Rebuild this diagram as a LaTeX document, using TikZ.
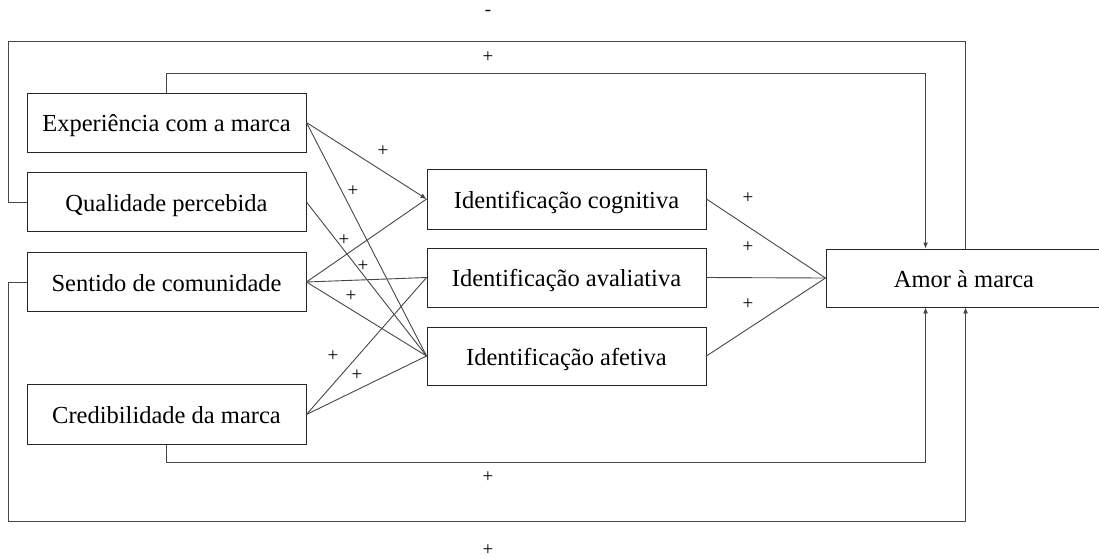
\documentclass[tikz,border=0pt]{standalone}
\usepackage{fontspec}
\setmainfont{Liberation Serif}
\usetikzlibrary{arrows.meta}

\tikzset{
  box/.style={draw=black!85, line width=0.9pt, inner sep=0pt,
    minimum width=279pt, minimum height=59pt,
    text height=18pt, text depth=0pt,
    font=\fontsize{24.5}{29}\selectfont},
  link/.style={draw=black!72, line width=0.9pt},
  arr/.style={link, -{Latex[length=6pt,width=5pt]}},
  sign/.style={inner sep=0pt, font=\fontsize{19}{22}\selectfont}
}

\begin{document}
\begin{tikzpicture}[x=1pt, y=-1pt]
\path[use as bounding box, clip] (0,0) rectangle (1099,558);

% antecedent constructs
\node[box] (exp)  at (166.5,122.5) {Experiência com a marca};
\node[box] (qual) at (166.5,202)    {Qualidade percebida};
\node[box] (sent) at (166.5,282)    {Sentido de comunidade};
\node[box, minimum height=60pt] (cred) at (166.5,414.5) {Credibilidade da marca};

% identification dimensions
\node[box, minimum height=60pt] (cog)  at (566.5,199)   {Identificação cognitiva};
\node[box] (aval) at (566.5,277.5) {Identificação avaliativa};
\node[box, minimum height=58pt] (afet) at (566.5,356)   {Identificação afetiva};

% outcome
\node[box, minimum width=276pt, minimum height=58pt] (amor) at (964,278) {Amor à marca};

% antecedents -> identification
\draw[arr]  (exp.east)  -- (cog.west);
\draw[link] (exp.east)  -- (afet.west);
\draw[link] (qual.east) -- (afet.west);
\draw[link] (sent.east) -- (cog.west);
\draw[link] (sent.east) -- (aval.west);
\draw[link] (sent.east) -- (afet.west);
\draw[link] (cred.east) -- (aval.west);
\draw[link] (cred.east) -- (afet.west);

% identification -> brand love
\draw[link] (cog.east)  -- (amor.west);
\draw[link] (aval.east) -- (amor.west);
\draw[link] (afet.east) -- (amor.west);

% direct paths to brand love
\draw[arr]  (exp.north)  -- ++(0,-19.5) -| ([xshift=100pt]amor.north west);
\draw[link] (qual.west)  -- ++(-18,0) -- ++(0,-161) -| ([xshift=140pt]amor.north west);
\draw[arr]  (cred.south) -- ++(0,17.5) -| ([xshift=100pt]amor.south west);
\draw[arr]  (sent.west)  -- ++(-18,0) -- ++(0,239) -| ([xshift=140pt]amor.south west);

% signs
\node[sign] (s1)  at (488,13)  {-};
\node[sign] (s2)  at (488,57)  {+};
\node[sign] (s3)  at (488,477) {+};
\node[sign] (s4)  at (488,550) {+};
\node[sign] (s5)  at (383,151) {+};
\node[sign] (s6)  at (353,191) {+};
\node[sign] (s7)  at (344,240) {+};
\node[sign] (s8)  at (363,266) {+};
\node[sign] (s9)  at (351,296) {+};
\node[sign] (s10) at (333,356) {+};
\node[sign] (s11) at (357,375) {+};
\node[sign] (s12) at (748,198) {+};
\node[sign] (s13) at (748,247) {+};
\node[sign] (s14) at (748,304) {+};
\end{tikzpicture}
\end{document}
